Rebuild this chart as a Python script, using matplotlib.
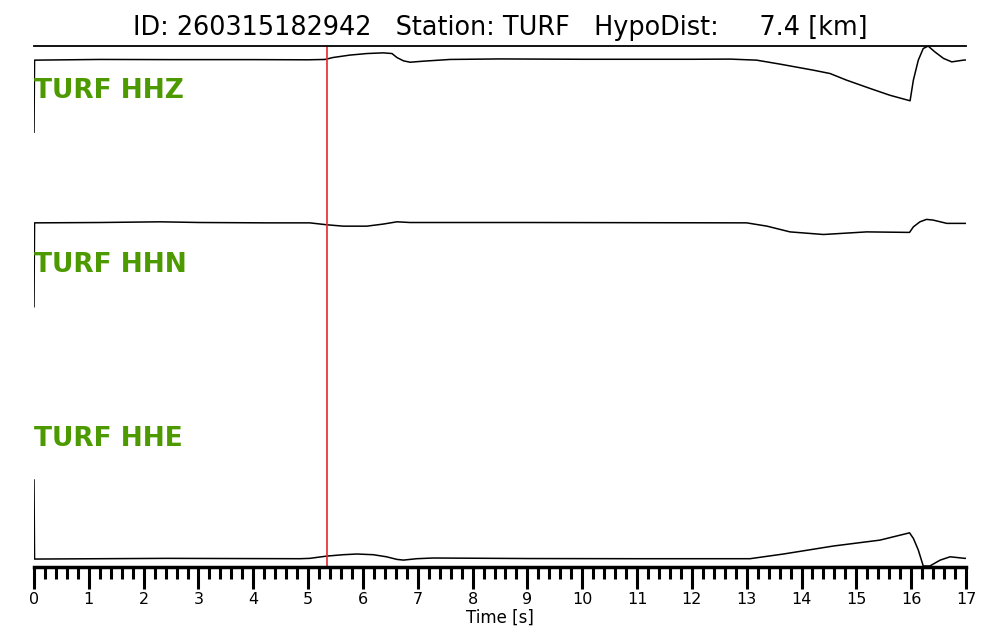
import numpy as np
import matplotlib.pyplot as plt
from matplotlib.ticker import MultipleLocator

# event info
event_id = '260315182942'
station = 'TURF'
hypo_dist = 7.4
pick_time = 5.345

channels = ['HHZ', 'HHN', 'HHE']

# normalized traces (time [s], amplitude in band units)
t_hhz = [0, 0.01, 1.2, 2.5, 4.0, 5.0, 5.31, 5.45, 5.76, 6.07, 6.37, 6.53, 6.62, 6.74,
         6.86, 7.10, 7.59, 8.5, 10.0, 12.0, 12.70, 13.18, 13.61, 14.22, 14.52, 14.82,
         15.25, 15.61, 15.98, 16.04, 16.13, 16.22, 16.31, 16.43, 16.59, 16.74, 16.95, 17.0]
a_hhz = [0.504, 0.919, 0.923, 0.922, 0.922, 0.921, 0.923, 0.934, 0.948, 0.957, 0.961,
         0.957, 0.934, 0.915, 0.907, 0.913, 0.923, 0.926, 0.924, 0.924, 0.925, 0.919,
         0.896, 0.861, 0.842, 0.804, 0.756, 0.717, 0.685, 0.804, 0.919, 0.986, 1.0,
         0.967, 0.929, 0.909, 0.919, 0.920]

t_hhn = [0, 0.01, 1.20, 2.30, 3.03, 4.24, 5.03, 5.34, 5.64, 6.07, 6.37, 6.62, 6.86,
         9.0, 11.0, 13.0, 13.37, 13.79, 14.40, 15.19, 15.97, 16.04, 16.16, 16.28, 16.40,
         16.65, 16.98, 17.0]
a_hhn = [0.499, 0.982, 0.984, 0.988, 0.984, 0.982, 0.982, 0.971, 0.963, 0.963, 0.975,
         0.988, 0.984, 0.984, 0.983, 0.982, 0.963, 0.930, 0.915, 0.930, 0.927, 0.959,
         0.988, 1.002, 0.998, 0.979, 0.979, 0.979]

t_hhe = [0, 0.01, 2.42, 4.85, 5.03, 5.34, 5.64, 5.89, 6.19, 6.43, 6.62, 6.74, 6.98,
         7.28, 9.0, 11.0, 13.06, 13.67, 14.58, 15.43, 15.97, 16.04, 16.13, 16.22, 16.34,
         16.53, 16.71, 16.98, 17.0]
a_hhe = [0.501, 0.046, 0.050, 0.048, 0.050, 0.063, 0.071, 0.075, 0.071, 0.059, 0.044,
         0.040, 0.048, 0.052, 0.049, 0.048, 0.048, 0.075, 0.121, 0.155, 0.197, 0.165,
         0.098, 0.006, 0.006, 0.040, 0.059, 0.050, 0.050]

traces = [(t_hhz, a_hhz), (t_hhn, a_hhn), (t_hhe, a_hhe)]
offsets = [2, 1, 0]

fig = plt.figure(figsize=(10, 6.4), dpi=100)
ax = fig.add_axes([0.034, 0.114, 0.932, 0.814])

for (t, a), off, ch in zip(traces, offsets, channels):
    ax.plot(t, np.array(a) + off, color='black', lw=1.1)
    ax.text(0.0, off + 1 - 0.26, station + ' ' + ch, color='#4c9a00',
            fontsize=19, fontweight='bold', va='center', ha='left')

ax.axvline(pick_time, color='#e8282b', lw=1.2)

ax.set_xlim(0, 17)
ax.set_ylim(0, 3)
ax.spines['left'].set_visible(False)
ax.spines['right'].set_visible(False)
ax.spines['top'].set_linewidth(1.3)
ax.spines['bottom'].set_linewidth(2.5)
ax.set_yticks([])
ax.xaxis.set_major_locator(MultipleLocator(1))
ax.xaxis.set_minor_locator(MultipleLocator(0.2))
ax.tick_params(axis='x', which='major', length=16, width=2.2, labelsize=11.5, pad=2)
ax.tick_params(axis='x', which='minor', length=8.5, width=2.2)
ax.set_xlabel('Time [s]', fontsize=12, labelpad=1)

ax.set_title('ID: %s   Station: %s   HypoDist: %7.1f [km]' % (event_id, station, hypo_dist),
             fontsize=18.4, pad=8)

plt.savefig('out.png')
plt.close()
